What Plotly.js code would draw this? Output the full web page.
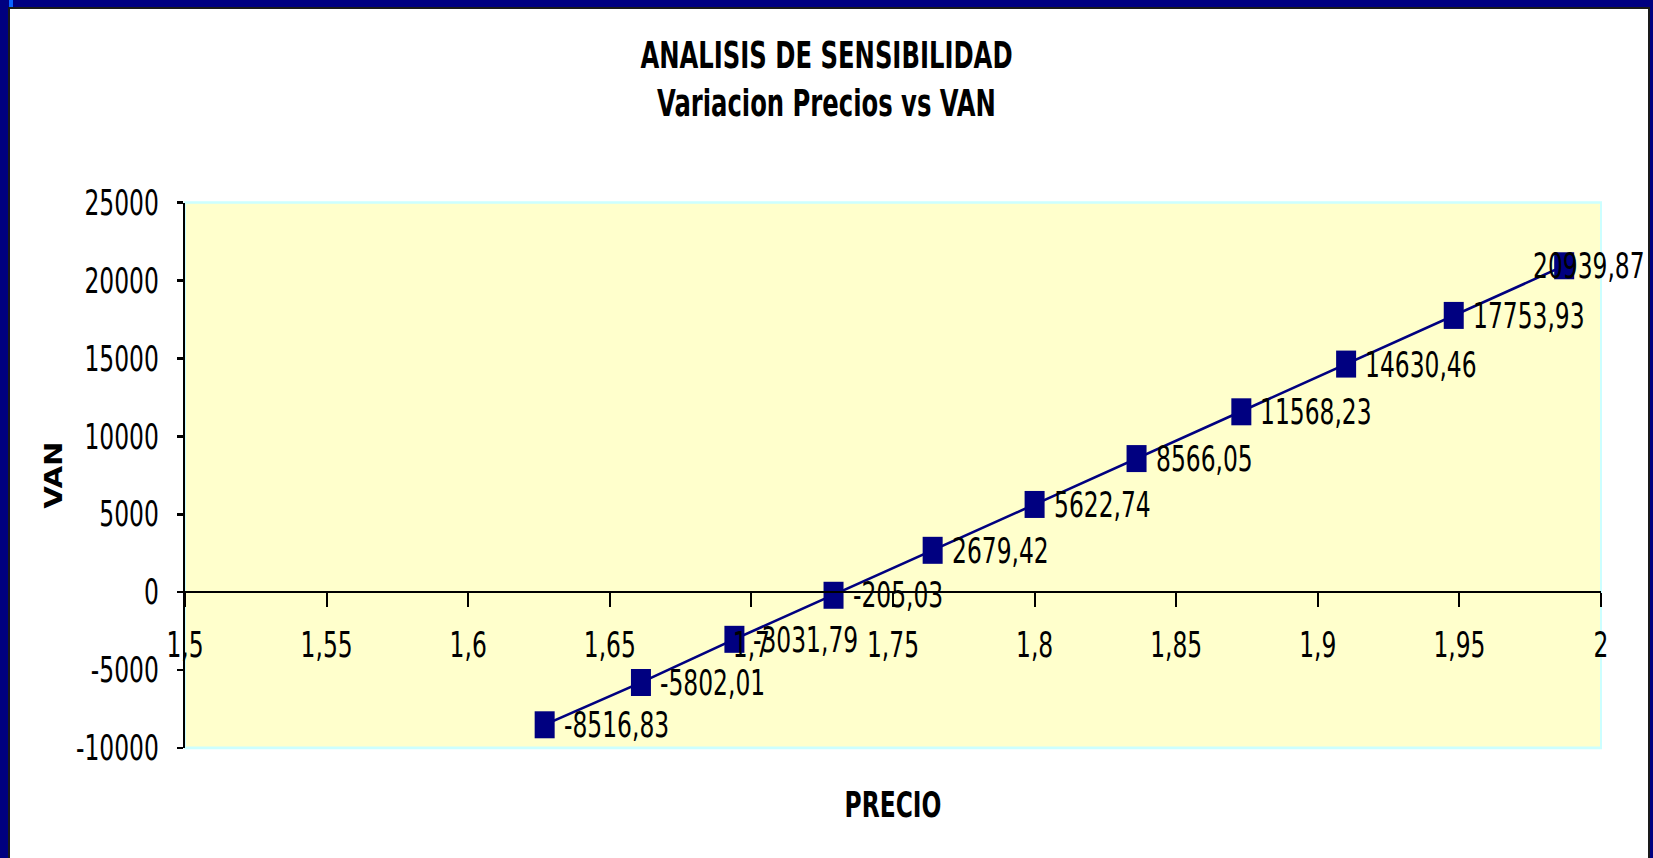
<!DOCTYPE html>
<html>
<head>
<meta charset="utf-8">
<script src="https://cdn.plot.ly/plotly-3.0.1.min.js"></script>
<style>
  html, body { margin:0; padding:0; }
  body { width:1653px; height:858px; overflow:hidden; background:#000080; position:relative; }
  #frame { position:absolute; left:8px; top:7px; width:1638px; height:900px; background:#ffffff; border:2px solid #1a1a1a; }
  #nub { position:absolute; left:9px; top:0px; width:4px; height:7px; background:#0a64ff; }
  #chart { position:absolute; left:0; top:0; width:1653px; height:636px; transform:scaleY(1.35); transform-origin:0 0; }
</style>
</head>
<body>
<div id="frame"></div>
<div id="nub"></div>
<div id="chart"></div>
<script>
// ---- data ----
const precio = [1.627, 1.661, 1.694, 1.729, 1.764, 1.800, 1.836, 1.873, 1.910, 1.948, 1.987];
const van = [-8516.83, -5802.01, -3031.79, -205.03, 2679.42, 5622.74, 8566.05, 11568.23, 14630.46, 17753.93, 20939.87];
const xTickVals = [1.5, 1.55, 1.6, 1.65, 1.7, 1.75, 1.8, 1.85, 1.9, 1.95, 2];
const xTickLabels = ["1,5", "1,55", "1,6", "1,65", "1,7", "1,75", "1,8", "1,85", "1,9", "1,95", "2"];
const yTickVals = [-10000, -5000, 0, 5000, 10000, 15000, 20000, 25000];
const yTickLabels = ["-10000", "-5000", "0", "5000", "10000", "15000", "20000", "25000"];
const chartTitle = "ANALISIS DE SENSIBILIDAD<br>Variacion Precios vs VAN";
const xTitle = "PRECIO";
const yTitle = "VAN";

const FONT = "'DejaVu Sans Condensed', 'DejaVu Sans', sans-serif";
const NAVY = "#000080";

const fmt = v => v.toFixed(2).replace('.', ',');

const trace = {
  type: 'scatter',
  mode: 'lines+markers',
  x: precio,
  y: van,
  line: { color: NAVY, width: 2 },
  marker: { symbol: 'square', size: 20, color: NAVY, line: { width: 0 } },
  cliponaxis: false,
  hoverinfo: 'skip'
};

const annotations = van.map((v, i) => ({
  x: precio[i], y: v, xref: 'x', yref: 'y',
  text: fmt(v), showarrow: false,
  xanchor: 'left', yanchor: 'middle',
  xshift: (i === van.length - 1) ? -33 : 17,
  font: { family: FONT, size: 26, color: '#000000' }
}));

const layout = {
  width: 1653, height: 636,
  margin: { l: 185, r: 52, t: 150, b: 82, pad: 0 },
  paper_bgcolor: 'rgba(0,0,0,0)',
  plot_bgcolor: '#FFFFCC',
  showlegend: false,
  font: { family: FONT, color: '#000000' },
  title: {
    text: '<b>' + chartTitle.replace('<br>', '</b><br><b>') + '</b>',
    x: 0.5, xref: 'container', xanchor: 'center',
    y: 1 - 50.5 / 636, yref: 'container', yanchor: 'middle',
    font: { family: FONT, size: 27, color: '#000000' }
  },
  xaxis: {
    range: [1.5, 2],
    tickmode: 'array', tickvals: xTickVals, ticktext: xTickLabels,
    showgrid: false, zeroline: false,
    showline: true, linecolor: '#000000', linewidth: 2,
    ticks: 'outside', ticklen: 10, tickwidth: 2, tickcolor: '#000000',
    ticklabelstandoff: 6,
    anchor: 'free', position: 10000 / 35000,
    tickfont: { family: FONT, size: 26, color: '#000000' },
    automargin: false,
    title: { text: '<b>' + xTitle + '</b>', standoff: 94, font: { family: FONT, size: 26, color: '#000000' } }
  },
  yaxis: {
    range: [-10000, 25000],
    tickmode: 'array', tickvals: yTickVals, ticktext: yTickLabels,
    showgrid: false, zeroline: false,
    showline: true, linecolor: '#000000', linewidth: 2,
    ticks: 'outside', ticklen: 6, tickwidth: 2, tickcolor: '#000000',
    ticklabelstandoff: 13,
    tickfont: { family: FONT, size: 26, color: '#000000' },
    automargin: false,
    title: { text: '<b>' + yTitle + '</b>', standoff: 7, font: { family: FONT, size: 24, color: '#000000' } }
  },
  shapes: [{
    type: 'rect', xref: 'paper', yref: 'paper', x0: 0, x1: 1, y0: 0, y1: 1,
    line: { color: '#CCFFFF', width: 2 }, fillcolor: 'rgba(0,0,0,0)', layer: 'below'
  }],
  annotations: annotations
};

Plotly.newPlot('chart', [trace], layout, { displayModeBar: false, staticPlot: true });
</script>
</body>
</html>
